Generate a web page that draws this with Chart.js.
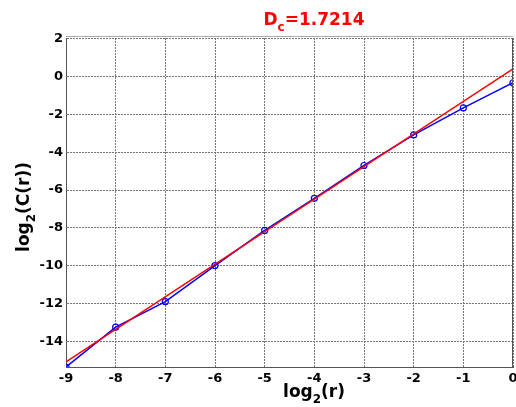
<!DOCTYPE html>
<html>
<head>
<meta charset="utf-8">
<script src="https://cdn.jsdelivr.net/npm/chart.js@4.4.0/dist/chart.umd.min.js"></script>
<style>
  html, body { margin: 0; padding: 0; background: #fff; }
  canvas { display: block; }
</style>
</head>
<body>
<canvas id="grafico" width="516" height="407"></canvas>
<script>
// datos
const logR = [-9, -8, -7, -6, -5, -4, -3, -2, -1, 0];
const logC = [-15.37, -13.26, -11.91, -10.0, -8.14, -6.44, -4.70, -3.08, -1.65, -0.32];
const ajusteX = [-9, 0];
const ajusteY = [-15.10, 0.42];
const xTicks = [-9, -8, -7, -6, -5, -4, -3, -2, -1, 0];
const yTicks = [-14, -12, -10, -8, -6, -4, -2, 0, 2];
const dimension = '1.7214';

const fuente = '"DejaVu Sans", Verdana, sans-serif';

// dibuja texto con subindice, centrado en x
function textoConSub(ctx, partes, x, y, tam) {
    let ancho = 0;
    partes.forEach(p => {
        ctx.font = 'bold ' + (p.sub ? tam * 0.7 : tam) + 'px ' + fuente;
        ancho += ctx.measureText(p.t).width;
    });
    let cx = x - ancho / 2;
    partes.forEach(p => {
        ctx.font = 'bold ' + (p.sub ? tam * 0.7 : tam) + 'px ' + fuente;
        ctx.fillText(p.t, cx, p.sub ? y + tam * 0.35 : y);
        cx += ctx.measureText(p.t).width;
    });
}

const rotulos = {
    id: 'rotulos',
    afterDraw(chart) {
        const ctx = chart.ctx;
        const area = chart.chartArea;
        ctx.save();
        // borde derecho y superior
        ctx.lineWidth = 1;
        ctx.strokeStyle = '#aaa';
        ctx.beginPath();
        ctx.moveTo(area.left, Math.round(area.top) - 1.5);
        ctx.lineTo(area.right, Math.round(area.top) - 1.5);
        ctx.stroke();
        ctx.strokeStyle = '#555';
        ctx.beginPath();
        ctx.moveTo(Math.round(area.right) - 0.5, area.top);
        ctx.lineTo(Math.round(area.right) - 0.5, area.bottom);
        ctx.stroke();

        ctx.textAlign = 'left';
        ctx.textBaseline = 'alphabetic';
        // titulo
        ctx.fillStyle = '#ff0000';
        textoConSub(ctx, [{t: 'D'}, {t: 'c', sub: true}, {t: '=' + dimension}], 314, 25, 17);
        // eje x
        ctx.fillStyle = '#000';
        textoConSub(ctx, [{t: 'log'}, {t: '2', sub: true}, {t: '(r)'}], 314, 397, 17);
        // eje y
        ctx.translate(29, 207);
        ctx.rotate(-Math.PI / 2);
        textoConSub(ctx, [{t: 'log'}, {t: '2', sub: true}, {t: '(C(r))'}], 0, 0, 17);
        ctx.restore();
    }
};

const ctx = document.getElementById('grafico').getContext('2d');
new Chart(ctx, {
    type: 'line',
    data: {
        datasets: [
            {
                label: 'ajuste',
                data: ajusteX.map((x, i) => ({x: x, y: ajusteY[i]})),
                borderColor: '#ff0000',
                borderWidth: 1.5,
                pointRadius: 0,
                order: 0
            },
            {
                label: 'datos',
                data: logR.map((x, i) => ({x: x, y: logC[i]})),
                borderColor: '#0000ff',
                borderWidth: 1.5,
                pointRadius: 3,
                pointBorderWidth: 1.2,
                pointBackgroundColor: 'rgba(0,0,0,0)',
                pointBorderColor: '#0000ff',
                order: 1
            }
        ]
    },
    options: {
        responsive: false,
        animation: false,
        layout: { autoPadding: false, padding: { top: 38, right: 3, left: 0, bottom: 0 } },
        plugins: {
            legend: { display: false },
            tooltip: { enabled: false }
        },
        scales: {
            x: {
                type: 'linear',
                min: -9,
                max: 0,
                afterBuildTicks: s => { s.ticks = xTicks.map(v => ({value: v})); },
                afterFit: s => { s.height = 40; s.paddingRight = 0; s.paddingLeft = 0; },
                grid: {
                    color: '#777',
                    lineWidth: 1,
                    drawTicks: false
                },
                border: { display: true, color: '#555', width: 1, dash: [2, 1] },
                ticks: {
                    color: '#000',
                    padding: 4,
                    maxRotation: 0,
                    font: { family: fuente, size: 13, weight: 'bold' }
                }
            },
            y: {
                type: 'linear',
                min: -15.37,
                max: 2.05,
                afterBuildTicks: s => { s.ticks = yTicks.map(v => ({value: v})); },
                afterFit: s => { s.width = 66; },
                grid: {
                    color: '#777',
                    lineWidth: 1,
                    drawTicks: false
                },
                border: { display: true, color: '#555', width: 1, dash: [2, 1] },
                ticks: {
                    color: '#000',
                    padding: 3,
                    font: { family: fuente, size: 13, weight: 'bold' }
                }
            }
        }
    },
    plugins: [rotulos]
});
</script>
</body>
</html>
